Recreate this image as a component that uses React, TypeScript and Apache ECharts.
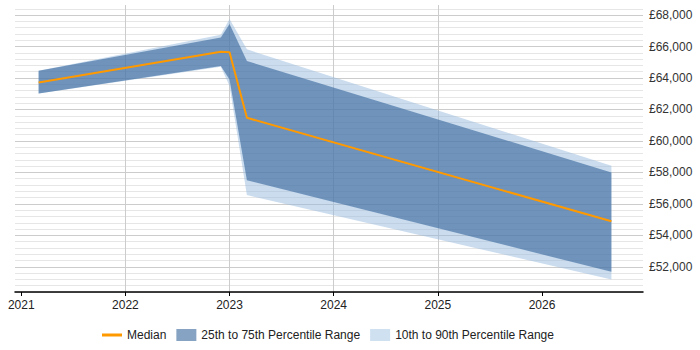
import React, { useEffect, useRef } from "react";
import * as echarts from "echarts";

// Survey months and salary percentiles (GBP)
const months = ["2021-03", "2022-12", "2023-01", "2023-03", "2026-09"];
const p10 = [63020, 64710, 63490, 56560, 51200];
const p25 = [63020, 64760, 63900, 57510, 51680];
const median = [63720, 65670, 65630, 61470, 54900];
const p75 = [64460, 66580, 67430, 65080, 58000];
const p90 = [64460, 66750, 67750, 65820, 58420];
const yearTicks = [2021, 2022, 2023, 2024, 2025, 2026];

const toYear = (m: string) => {
  const [y, mo] = m.split("-").map(Number);
  return y + (mo - 1) / 12;
};
const xs = months.map(toYear);

const FONT = "'Liberation Sans', Arial, sans-serif";
const ORANGE = "#ff9900";

const money = (v: number) => "£" + String(Math.round(v)).replace(/\B(?=(\d{3})+(?!\d))/g, ",");

// Filled band between two percentile curves, drawn as one polygon through the axes' scales.
const band = (name: string, lo: number[], hi: number[], fill: string, legendColor: string, z: number) => ({
  name,
  type: "custom",
  data: [0],
  silent: true,
  z,
  itemStyle: { color: legendColor },
  renderItem: (_params: any, api: any) => {
    const top = xs.map((x, i) => api.coord([x, hi[i]]));
    const bottom = xs.map((x, i) => api.coord([x, lo[i]])).reverse();
    return {
      type: "polygon",
      shape: { points: top.concat(bottom) },
      style: { fill },
    };
  },
});

export default function App() {
  const ref = useRef<HTMLDivElement>(null);

  useEffect(() => {
    if (!ref.current) return;
    const chart = echarts.init(ref.current, undefined, { renderer: "svg" });
    chart.setOption({
      animation: false,
      textStyle: { fontFamily: FONT },
      grid: { left: 15, right: 57, top: 5, bottom: 58, containLabel: false },
      legend: {
        left: 97,
        top: 324,
        itemWidth: 20,
        itemHeight: 12,
        itemGap: 10,
        selectedMode: false,
        textStyle: { color: "#222", fontSize: 12, fontFamily: FONT },
        data: [
          { name: "Median", icon: "path://M0 0H20V3H0Z", itemStyle: { color: ORANGE, borderWidth: 0 } },
          { name: "25th to 75th Percentile Range", icon: "rect", itemStyle: { color: "#86a3c3", borderWidth: 0 } },
          { name: "10th to 90th Percentile Range", icon: "rect", itemStyle: { color: "#cfe0f1", borderWidth: 0 } },
        ],
      },
      xAxis: {
        type: "value",
        min: 2020.94,
        max: 2026.97,
        splitNumber: 6,
        axisLine: { show: true, onZero: false, lineStyle: { color: "#000", width: 1.5 } },
        axisTick: { show: true, length: 4, lineStyle: { color: "#000" }, customValues: yearTicks },
        axisLabel: {
          customValues: yearTicks,
          formatter: (v: number) => String(Math.round(v)),
          color: "#222",
          fontSize: 12,
          fontFamily: FONT,
          margin: 7,
        },
        splitLine: { show: true, showMinLine: false, showMaxLine: false, lineStyle: { color: "#cccccc", width: 1 } },
      },
      yAxis: {
        type: "value",
        position: "right",
        min: 50400,
        max: 68640,
        interval: 400,
        axisLine: { show: false },
        axisTick: { show: false },
        axisLabel: {
          formatter: (v: number) => (v % 2000 === 0 ? money(v) : ""),
          color: "#333",
          fontSize: 12,
          fontFamily: FONT,
          margin: 6,
        },
        splitLine: {
          show: true,
          showMaxLine: false,
          lineStyle: { color: ["#e6e6e6", "#e6e6e6", "#e6e6e6", "#e6e6e6", "#cccccc"], width: 1 },
        },
      },
      series: [
        band("10th to 90th Percentile Range", p10, p90, "rgba(149,185,221,0.5)", "#cfe0f1", 1),
        band("25th to 75th Percentile Range", p25, p75, "rgba(50,98,154,0.6)", "#86a3c3", 2),
        {
          name: "Median",
          type: "line",
          z: 3,
          symbol: "none",
          silent: true,
          itemStyle: { color: ORANGE },
          lineStyle: { color: ORANGE, width: 2 },
          data: xs.map((x, i) => [x, median[i]]),
        },
      ],
    });
    return () => chart.dispose();
  }, []);

  return (
    <div
      ref={ref}
      style={{ position: "fixed", left: 0, top: 0, width: 700, height: 350, background: "#fff" }}
    />
  );
}
